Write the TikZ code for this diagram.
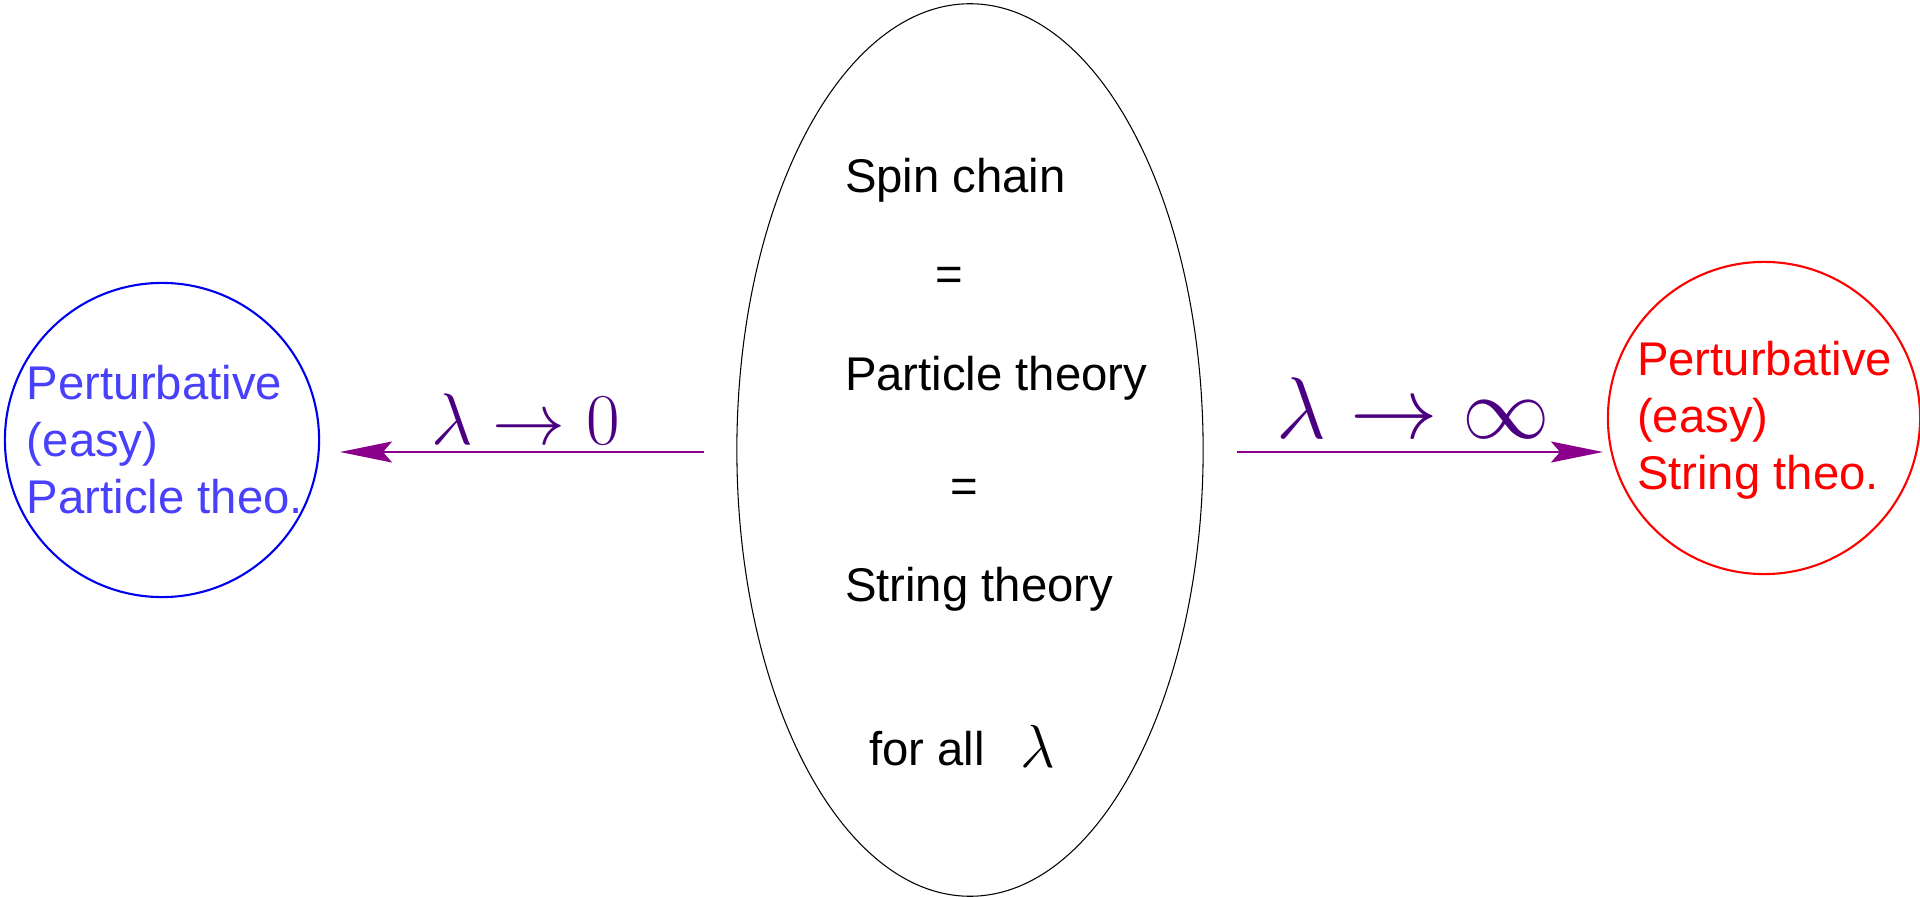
\documentclass[tikz,border=0pt]{standalone}
\usepackage{fontspec}
\setmainfont{Liberation Sans}
\usetikzlibrary{shapes.geometric,arrows.meta}
\definecolor{bluetext}{RGB}{72,64,250}
\definecolor{bluering}{RGB}{0,0,240}
\definecolor{redring}{RGB}{255,0,0}
\definecolor{arrowcol}{RGB}{139,0,139}
\definecolor{mathcol}{RGB}{75,0,130}
\tikzset{
  txt/.style={inner sep=0pt, outer sep=0pt, anchor=base west, font=\fontsize{13.45}{16}\selectfont},
  ring/.style={circle, inner sep=0pt, outer sep=0pt, line width=0.6pt},
  conn/.style={draw=arrowcol, line width=0.6pt, -{Stealth[length=0.52cm, width=0.21cm, inset=0.09cm]}},
  lab/.style={inner sep=0pt, outer sep=0pt, anchor=base west, text=mathcol}
}
\begin{document}
\begin{tikzpicture}[x=0.01cm, y=-0.01cm]
\useasboundingbox (0,0) rectangle (1920,897);
% shapes
\node[ring, draw=bluering, minimum size=3.14cm] (lc) at (162,440) {};
\node[ring, draw=redring, minimum size=3.12cm] (rc) at (1764,418) {};
\node[ellipse, draw=black, line width=0.3pt, inner sep=0pt, outer sep=0pt,
      minimum width=4.66cm, minimum height=8.92cm] (ell) at (970,450) {};
% center texts
\node[txt] (t1) at (845,192) {Spin chain};
\node[txt] (t2) at (935,290) {=};
\node[txt] (t3) at (845,390) {Particle theory};
\node[txt] (t4) at (950,502) {=};
\node[txt] (t5) at (845,601) {String theory};
\node[txt] (t6) at (869,765) {for all};
\node[txt, font=\fontsize{17.5}{20}\selectfont] (t7) at (1020,767) {$\lambda$};
% left circle texts
\node[txt, text=bluetext] (l1) at (27,399) {Perturbative};
\node[txt, text=bluetext] (l2) at (27,456) {(easy)};
\node[txt, text=bluetext] (l3) at (27,513) {Particle theo.};
% right circle texts
\node[txt, text=redring] (r1) at (1637,375) {Perturbative};
\node[txt, text=redring] (r2) at (1637,432) {(easy)};
\node[txt, text=redring] (r3) at (1637,489) {String theo.};
% arrows
\coordinate (a0) at (704,452);
\coordinate (a1) at (340,452);
\coordinate (b0) at (1237,452);
\coordinate (b1) at (1603,452);
\draw[conn] (a0) -- (a1);
\draw[conn] (b0) -- (b1);
\node[lab, font=\fontsize{20.2}{24}\selectfont] (la) at (431,444) {$\lambda\rightarrow0$};
\node[lab, font=\fontsize{23.5}{28}\selectfont] (lb) at (1276,438) {$\lambda\rightarrow\infty$};
\end{tikzpicture}
\end{document}
